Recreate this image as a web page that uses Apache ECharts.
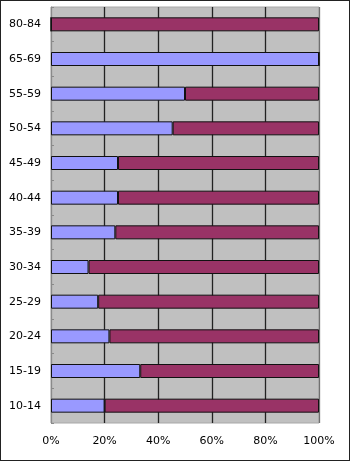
<!DOCTYPE html>
<html>
<head>
<meta charset="utf-8">
<script src="https://cdn.jsdelivr.net/npm/echarts@6/dist/echarts.min.js"></script>
<style>
html,body{margin:0;padding:0;background:#fff;}
#c{position:absolute;left:0;top:0;width:350px;height:461px;}
#frame{position:absolute;left:0;top:0;width:350px;height:461px;box-sizing:border-box;border:1px solid #222;pointer-events:none;}
</style>
</head>
<body>
<div id="c"></div>
<div id="frame"></div>
<script>
var categories = ['10-14','15-19','20-24','25-29','30-34','35-39','40-44','45-49','50-54','55-59','65-69','80-84'];
var blueValues = [20, 33.3, 21.8, 17.6, 14, 24, 25, 25, 45.4, 50, 100, 0];
var plumValues = [80, 66.7, 78.2, 82.4, 86, 76, 75, 75, 54.6, 50, 0, 100];
var xTicks = [0, 20, 40, 60, 80, 100];

var chart = echarts.init(document.getElementById('c'), null, {renderer:'canvas'});
var font = 'DejaVu Sans';
chart.setOption({
  animation: false,
  grid: {left: 51, right: 31, top: 7, bottom: 38, show: true, backgroundColor: '#C0C0C0', borderColor: '#A8A8A8', borderWidth: 1},
  xAxis: {
    type: 'value', min: xTicks[0], max: xTicks[xTicks.length-1], interval: 20,
    axisLine: {show: false},
    axisTick: {show: false},
    axisLabel: {formatter: '{value}%', fontFamily: font, fontSize: 11, color: '#000', margin: 13},
    splitLine: {show: true, lineStyle: {color: ['#8A8A8A','#222','#222','#222','#222','#707070'], width: 1.3}}
  },
  yAxis: {
    type: 'category', data: categories,
    axisLine: {show: true, lineStyle: {color: '#8A8A8A', width: 1}},
    axisTick: {show: true, inside: true, length: 3, interval: 0, lineStyle: {color: '#8A8A8A'}},
    axisLabel: {fontFamily: font, fontSize: 11, color: '#000', margin: 10},
    splitLine: {show: false}
  },
  series: [
    {type: 'bar', stack: 'a', data: blueValues, barWidth: 14,
     itemStyle: {color: '#9999FF', borderColor: '#111', borderWidth: 1}},
    {type: 'bar', stack: 'a', data: plumValues, barWidth: 14,
     itemStyle: {color: '#993366', borderColor: '#111', borderWidth: 1}}
  ]
});
</script>
</body>
</html>
